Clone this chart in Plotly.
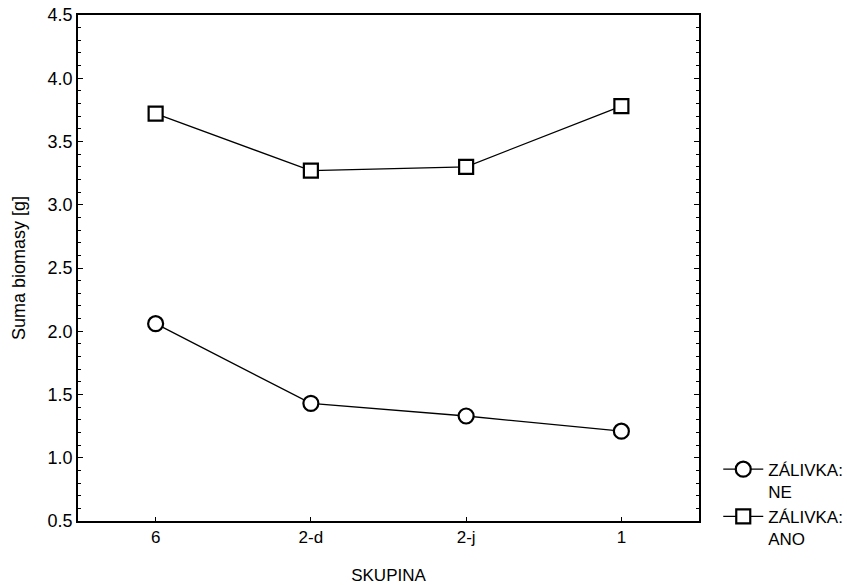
import plotly.graph_objects as go

# Categories on the x axis and mean biomass per group
skupina = ["6", "2-d", "2-j", "1"]
zalivka_ne = [2.06, 1.43, 1.33, 1.21]
zalivka_ano = [3.72, 3.27, 3.30, 3.78]
series_names = ["ZÁLIVKA:<br>NE", "ZÁLIVKA:<br>ANO"]
y_ticks = [0.5, 1.0, 1.5, 2.0, 2.5, 3.0, 3.5, 4.0, 4.5]

FONT = "Liberation Sans, Arial, sans-serif"

fig = go.Figure()
fig.add_trace(go.Scatter(
    x=skupina, y=zalivka_ne, name=series_names[0], mode="lines+markers",
    line=dict(color="black", width=1.3),
    marker=dict(symbol="circle", size=15, color="white",
                line=dict(color="black", width=2.2)),
))
fig.add_trace(go.Scatter(
    x=skupina, y=zalivka_ano, name=series_names[1], mode="lines+markers",
    line=dict(color="black", width=1.3),
    marker=dict(symbol="square", size=14, color="white",
                line=dict(color="black", width=2.2)),
))

fig.update_layout(
    width=847, height=585,
    margin=dict(l=78, r=148, t=15, b=64, autoexpand=False),
    paper_bgcolor="white", plot_bgcolor="white",
    font=dict(family=FONT, color="black", size=17),
    legend=dict(
        xref="container", yref="container",
        x=0.848, y=0.228, xanchor="left", yanchor="top",
        bgcolor="rgba(0,0,0,0)", font=dict(size=17),
        tracegroupgap=0, itemwidth=40, valign="top",
    ),
    xaxis=dict(
        type="category", range=[-0.5, 3.5],
        showline=True, linecolor="black", linewidth=1.6, mirror=True,
        ticks="inside", ticklen=4, tickcolor="black",
        showgrid=False, zeroline=False,
        tickfont=dict(size=17),
        title=dict(text="SKUPINA", font=dict(size=17), standoff=23),
    ),
    yaxis=dict(
        range=[0.5, 4.5], tickvals=y_ticks, ticktext=[f"{v:.1f}" for v in y_ticks],
        showline=True, linecolor="black", linewidth=1.6, mirror="allticks",
        ticks="inside", ticklen=5, tickcolor="black",
        minor=dict(dtick=0.1, ticks="inside", ticklen=3, tickcolor="black"),
        showgrid=False, zeroline=False,
        tickfont=dict(size=18),
        title=dict(text="Suma biomasy [g]", font=dict(size=18), standoff=17),
    ),
)

fig.write_html("out.html")
